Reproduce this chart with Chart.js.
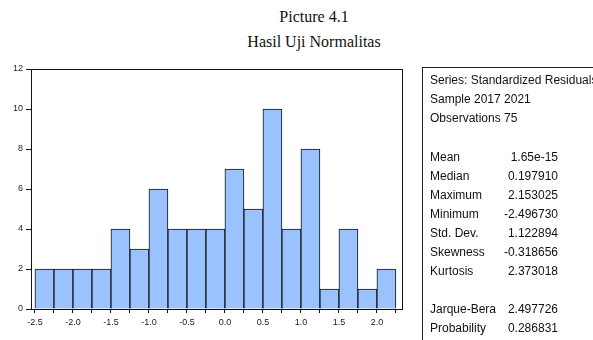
<!DOCTYPE html>
<html>
<head>
<meta charset="utf-8">
<script src="https://cdn.jsdelivr.net/npm/chart.js@4"></script>
<style>
  body { margin: 0; width: 593px; height: 340px; overflow: hidden; background: #fff; position: relative; }
  #chart { position: absolute; left: 0; top: 0; }
  .title { position: absolute; left: 0; width: 628px; text-align: center; font-family: "Liberation Serif", "Times New Roman", serif; font-size: 16px; color: #111; line-height: 18px; }
  #panel { position: absolute; left: 422px; top: 67px; width: 200px; height: 300px; border-left: 1px solid #222; border-top: 1px solid #222; }
  .st { position: absolute; font-family: Arial, "Liberation Sans", sans-serif; font-size: 12px; line-height: 14px; color: #111; white-space: nowrap; }
</style>
</head>
<body>
<div class="title" style="top:8px">Picture 4.1</div>
<div class="title" style="top:33px">Hasil Uji Normalitas</div>
<canvas id="chart" width="593" height="340"></canvas>
<div id="panel"></div>
<script>
// histogram bins (width 0.25), centres and counts
const binCenters = [-2.375, -2.125, -1.875, -1.625, -1.375, -1.125, -0.875, -0.625, -0.375, -0.125,
  0.125, 0.375, 0.625, 0.875, 1.125, 1.375, 1.625, 1.875, 2.125];
const binCounts = [2, 2, 2, 2, 4, 3, 6, 4, 4, 4, 7, 5, 10, 4, 8, 1, 4, 1, 2];
const xTickValues = [-2.5, -2.25, -2.0, -1.75, -1.5, -1.25, -1.0, -0.75, -0.5, -0.25,
  0.0, 0.25, 0.5, 0.75, 1.0, 1.25, 1.5, 1.75, 2.0, 2.25];
const xTickLabels = ["-2.5", "-2.0", "-1.5", "-1.0", "-0.5", "0.0", "0.5", "1.0", "1.5", "2.0"];

const headerLines = ["Series: Standardized Residuals", "Sample 2017 2021", "Observations 75"];
const statLabels = ["Mean", "Median", "Maximum", "Minimum", "Std. Dev.", "Skewness", "Kurtosis"];
const statValues = ["1.65e-15", "0.197910", "2.153025", "-2.496730", "1.122894", "-0.318656", "2.373018"];
const testLabels = ["Jarque-Bera", "Probability"];
const testValues = ["2.497726", "0.286831"];

// stats panel text
function addText(txt, left, top, alignRight) {
  const d = document.createElement("div");
  d.className = "st";
  d.textContent = txt;
  d.style.top = top + "px";
  if (alignRight) {
    d.style.right = (593 - left) + "px";
  } else {
    d.style.left = left + "px";
  }
  document.body.appendChild(d);
}
headerLines.forEach((t, i) => addText(t, 430, 73 + i * 19, false));
statLabels.forEach((t, i) => {
  addText(t, 430, 150 + i * 19, false);
  addText(statValues[i], 558, 150 + i * 19, true);
});
testLabels.forEach((t, i) => {
  addText(t, 430, 302 + i * 19, false);
  addText(testValues[i], 558, 302 + i * 19, true);
});

// frame round the plot area
const frame = {
  id: "frame",
  afterDraw(chart) {
    const a = chart.chartArea;
    const ctx = chart.ctx;
    ctx.save();
    ctx.strokeStyle = "#111";
    ctx.lineWidth = 1;
    ctx.strokeRect(Math.round(a.left) + 0.5, Math.round(a.top) + 0.5,
      Math.round(a.right - a.left), Math.round(a.bottom - a.top));
    ctx.restore();
  }
};

const tickFont = { family: "Arial, 'Liberation Sans', sans-serif", size: 9 };

new Chart(document.getElementById("chart"), {
  type: "bar",
  data: {
    datasets: [{
      data: binCenters.map((c, i) => ({ x: c, y: binCounts[i] })),
      backgroundColor: "#99c2ff",
      borderColor: "#111",
      borderWidth: 1,
      barPercentage: 1,
      categoryPercentage: 1,
    }],
  },
  options: {
    responsive: false,
    animation: false,
    layout: { padding: { left: 0, top: 69, right: 191, bottom: 0 } },
    plugins: { legend: { display: false }, tooltip: { enabled: false } },
    scales: {
      x: {
        type: "linear",
        offset: false,
        min: -2.552,
        max: 2.33,
        afterBuildTicks: (s) => { s.ticks = xTickValues.map((v) => ({ value: v })); },
        afterFit: (s) => { s.height = 31; },
        grid: { drawOnChartArea: false, offset: false, tickLength: 4, color: "#111" },
        border: { display: false },
        ticks: {
          autoSkip: false,
          maxRotation: 0,
          padding: 4,
          color: "#222",
          font: tickFont,
          callback: (v) => {
            const s = v.toFixed(1);
            return xTickLabels.includes(s) && Math.abs(v * 2 - Math.round(v * 2)) < 1e-9 ? s : "";
          },
        },
      },
      y: {
        min: 0,
        max: 12,
        afterFit: (s) => { s.width = 31; },
        grid: { drawOnChartArea: false, tickLength: 5, color: "#111" },
        border: { display: false },
        ticks: { stepSize: 2, padding: 3, color: "#222", font: tickFont },
      },
    },
  },
  plugins: [frame],
});
</script>
</body>
</html>
